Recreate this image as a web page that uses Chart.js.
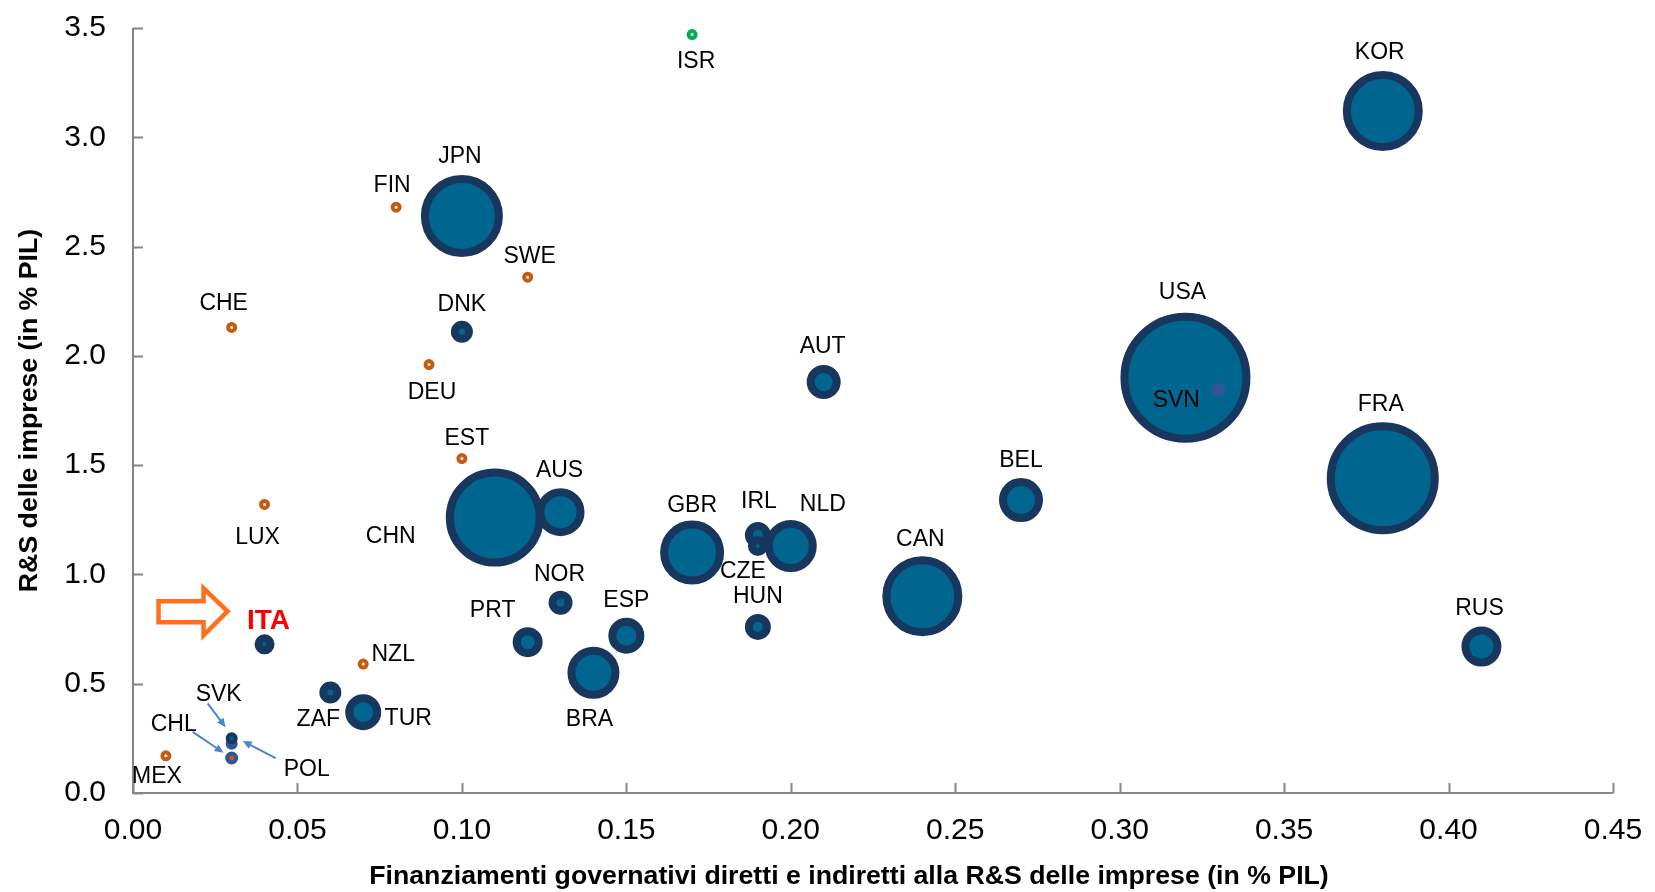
<!DOCTYPE html>
<html>
<head>
<meta charset="utf-8">
<script src="https://cdn.jsdelivr.net/npm/chart.js@4.4.0/dist/chart.umd.min.js"></script>
<style>
  html, body { margin: 0; padding: 0; background: #fff; }
  #wrap { width: 1655px; height: 892px; }
</style>
</head>
<body>
<div id="wrap"><canvas id="rdChart"></canvas></div>
<script>
// drawing order matters: small ones drawn after the big ones they sit on
const countries   = ['KOR','JPN','CHN','USA','SVN','FRA','CAN','GBR','AUS','BRA','IRL','CZE','NLD','BEL','RUS','AUT','ESP','TUR','PRT','HUN','NOR','DNK','ZAF','ITA','CHL','SVK','POL','ISR','FIN','SWE','CHE','DEU','EST','LUX','NZL','MEX'];
const govFunding  = [0.38, 0.10, 0.11, 0.32, 0.33, 0.38, 0.24, 0.17, 0.13, 0.14, 0.19, 0.19, 0.20, 0.27, 0.41, 0.21, 0.15, 0.07, 0.12, 0.19, 0.13, 0.10, 0.06, 0.04, 0.03, 0.03, 0.03, 0.17, 0.08, 0.12, 0.03, 0.09, 0.10, 0.04, 0.07, 0.01];
const businessRD  = [3.12, 2.64, 1.26, 1.90, 1.845, 1.44, 0.90, 1.10, 1.285, 0.55, 1.18, 1.13, 1.13, 1.34, 0.67, 1.88, 0.72, 0.37, 0.69, 0.76, 0.87, 2.11, 0.46, 0.68, 0.225, 0.25, 0.16, 3.47, 2.68, 2.36, 2.13, 1.96, 1.53, 1.32, 0.59, 0.17];
// third dimension (bubble size)
const bubbleSize  = [40, 41, 49, 65, 7, 56, 40, 32, 24, 26, 13, 10, 26, 22, 20, 17, 18, 18, 15, 13, 12, 11, 11, 10, 6, 6, 6.5, 5.5, 5.5, 5.5, 5.5, 5.5, 5.5, 5.5, 5.5, 5.5];
// marker group
const group       = ['b','b','b','b','svn','b','b','b','b','b','b','b','b','b','b','b','b','b','b','b','b','b','b','b','chl','b','pol','isr','o','o','o','o','o','o','o','o'];
const xTicks = [0, 0.05, 0.10, 0.15, 0.20, 0.25, 0.30, 0.35, 0.40, 0.45];
const yTicks = [0, 0.5, 1.0, 1.5, 2.0, 2.5, 3.0, 3.5];
const xTitle = 'Finanziamenti governativi diretti e indiretti alla R&S delle imprese (in % PIL)';
const yTitle = 'R&S delle imprese (in % PIL)';

const NAVY = '#18375e';
const TEAL = '#006690';
const ORANGE = '#c55a11';
const GREEN = '#00b050';
const BLUE2 = '#2f5597';
const AXIS = '#868686';
const FONT = '"Liberation Sans", Arial, sans-serif';

function borderFor(i) {
  const g = group[i], s = bubbleSize[i];
  if (g === 'b') return s >= 10 ? 8 : 4;
  if (g === 'o' || g === 'isr') return 4;
  if (g === 'pol') return 4;
  if (g === 'chl') return 3;
  return 0;
}
function fillFor(i) {
  const g = group[i];
  if (g === 'b') return TEAL;
  if (g === 'o' || g === 'isr') return '#ffffff';
  if (g === 'pol') return ORANGE;
  return BLUE2;
}
function strokeFor(i) {
  const g = group[i];
  if (g === 'b') return NAVY;
  if (g === 'o') return ORANGE;
  if (g === 'isr') return GREEN;
  return BLUE2;
}

// label offsets from the marker centre, px
const labelOffset = {
  ISR:[4,27], KOR:[-3,-58], JPN:[-2,-59], FIN:[-4,-22], SWE:[2,-21], CHE:[-8,-24], DNK:[0,-27],
  DEU:[3,28], AUT:[-1,-35], USA:[-3,-85], SVN:[-42,11], FRA:[-2,-74], EST:[5,-20], BEL:[0,-39],
  LUX:[-7,33], CHN:[-104,19], AUS:[-1,-41], GBR:[0,-47], IRL:[1,-33], CZE:[-15,26], NLD:[32,-41],
  CAN:[-2,-57], NOR:[-1,-28], ESP:[0,-35], HUN:[0,-30], PRT:[-35,-32], BRA:[-4,47], RUS:[-2,-38],
  NZL:[30,-9], ZAF:[-12,27], TUR:[45,7], SVK:[-13,-44], CHL:[-58,-19], POL:[75,12], MEX:[-9,21]
};

const points = countries.map((c, i) => ({
  x: govFunding[i],
  y: businessRD[i],
  r: Math.max(bubbleSize[i] - borderFor(i) / 2, 1)
}));

function arrow(ctx, x1, y1, x2, y2) {
  const a = Math.atan2(y2 - y1, x2 - x1);
  const h = 9;
  ctx.beginPath();
  ctx.moveTo(x1, y1);
  ctx.lineTo(x2 - Math.cos(a) * h * 0.8, y2 - Math.sin(a) * h * 0.8);
  ctx.stroke();
  ctx.beginPath();
  ctx.moveTo(x2, y2);
  ctx.lineTo(x2 - h * Math.cos(a) + 4 * Math.sin(a), y2 - h * Math.sin(a) - 4 * Math.cos(a));
  ctx.lineTo(x2 - h * Math.cos(a) - 4 * Math.sin(a), y2 - h * Math.sin(a) + 4 * Math.cos(a));
  ctx.closePath();
  ctx.fill();
}

// axis lines, inward tick marks and the x title
const axesPlugin = {
  id: 'axesPlugin',
  beforeDatasetsDraw(chart) {
    const { ctx, chartArea: a, scales: { x, y } } = chart;
    ctx.save();
    ctx.strokeStyle = AXIS;
    ctx.lineWidth = 2;
    ctx.beginPath();
    ctx.moveTo(a.left, a.top);
    ctx.lineTo(a.left, a.bottom);
    ctx.lineTo(a.right, a.bottom);
    ctx.stroke();
    ctx.beginPath();
    yTicks.forEach(v => {
      const p = Math.round(y.getPixelForValue(v)) + 0.5;
      ctx.moveTo(a.left, p); ctx.lineTo(a.left + 10, p);
    });
    xTicks.forEach(v => {
      const p = Math.round(x.getPixelForValue(v)) + 0.5;
      ctx.moveTo(p, a.bottom); ctx.lineTo(p, a.bottom - 10);
    });
    ctx.stroke();

    ctx.fillStyle = '#000';
    ctx.font = 'bold 26.7px ' + FONT;
    ctx.textAlign = 'center';
    ctx.textBaseline = 'middle';
    ctx.fillText(xTitle, (a.left + a.right) / 2 - 24, 877);
    ctx.restore();
  }
};

const labelPlugin = {
  id: 'labelPlugin',
  afterDatasetsDraw(chart) {
    const { ctx } = chart;
    const meta = chart.getDatasetMeta(0);
    ctx.save();
    ctx.textAlign = 'center';
    ctx.textBaseline = 'middle';
    ctx.fillStyle = '#000';
    ctx.font = '23px ' + FONT;
    countries.forEach((c, i) => {
      const off = labelOffset[c];
      if (!off) return;
      const el = meta.data[i];
      ctx.fillText(c, el.x + off[0], el.y + off[1]);
    });

    // ITA highlight
    const it = meta.data[countries.indexOf('ITA')];
    ctx.font = 'bold 28px ' + FONT;
    ctx.fillStyle = '#ff0000';
    ctx.fillText('ITA', it.x + 4, it.y - 23);
    const ox = it.x, oy = it.y;
    ctx.strokeStyle = '#ff6f1e';
    ctx.lineWidth = 4.5;
    ctx.lineJoin = 'miter';
    ctx.beginPath();
    ctx.moveTo(ox - 106, oy - 43);
    ctx.lineTo(ox - 61, oy - 43);
    ctx.lineTo(ox - 61, oy - 56);
    ctx.lineTo(ox - 37, oy - 33);
    ctx.lineTo(ox - 61, oy - 9);
    ctx.lineTo(ox - 61, oy - 22);
    ctx.lineTo(ox - 106, oy - 22);
    ctx.closePath();
    ctx.stroke();

    // blue pointer arrows for SVK, CHL, POL
    ctx.strokeStyle = '#4a86d0';
    ctx.fillStyle = '#4a86d0';
    ctx.lineWidth = 2;
    const sv = meta.data[countries.indexOf('SVK')];
    const ch = meta.data[countries.indexOf('CHL')];
    const po = meta.data[countries.indexOf('POL')];
    arrow(ctx, sv.x - 24, sv.y - 35, sv.x - 6, sv.y - 11);
    arrow(ctx, ch.x - 39, ch.y - 12, ch.x - 8, ch.y + 9);
    arrow(ctx, po.x + 44, po.y, po.x + 11, po.y - 17);
    ctx.restore();
  }
};

new Chart(document.getElementById('rdChart'), {
  type: 'bubble',
  data: {
    labels: countries,
    datasets: [{
      data: points,
      backgroundColor: ctx => fillFor(ctx.dataIndex),
      borderColor: ctx => strokeFor(ctx.dataIndex),
      borderWidth: ctx => borderFor(ctx.dataIndex)
    }]
  },
  options: {
    responsive: true,
    maintainAspectRatio: false,
    animation: false,
    events: [],
    layout: { autoPadding: false, padding: { left: 0, right: 42, top: 28, bottom: 0 } },
    plugins: { legend: { display: false }, tooltip: { enabled: false } },
    scales: {
      x: {
        type: 'linear',
        min: 0, max: 0.45,
        grid: { display: false, drawTicks: true, tickLength: 20 },
        border: { display: false },
        afterFit: s => { s.height = 99; },
        afterBuildTicks: s => { s.ticks = xTicks.map(v => ({ value: v })); },
        ticks: {
          padding: 0,
          color: '#000',
          font: { family: FONT, size: 30 },
          callback: v => Number(v).toFixed(2)
        },
        title: { display: false }
      },
      y: {
        type: 'linear',
        min: 0, max: 3.5,
        grid: { display: false, drawTicks: true, tickLength: 27 },
        border: { display: false },
        afterFit: s => { s.width = 133; },
        afterBuildTicks: s => { s.ticks = yTicks.map(v => ({ value: v })); },
        ticks: {
          padding: 0,
          color: '#000',
          font: { family: FONT, size: 30 },
          callback: v => Number(v).toFixed(1)
        },
        title: {
          display: true,
          text: yTitle,
          color: '#000',
          font: { family: FONT, size: 26.7, weight: 'bold' },
          padding: { top: 14, bottom: 0 }
        }
      }
    }
  },
  plugins: [axesPlugin, labelPlugin]
});
</script>
</body>
</html>
